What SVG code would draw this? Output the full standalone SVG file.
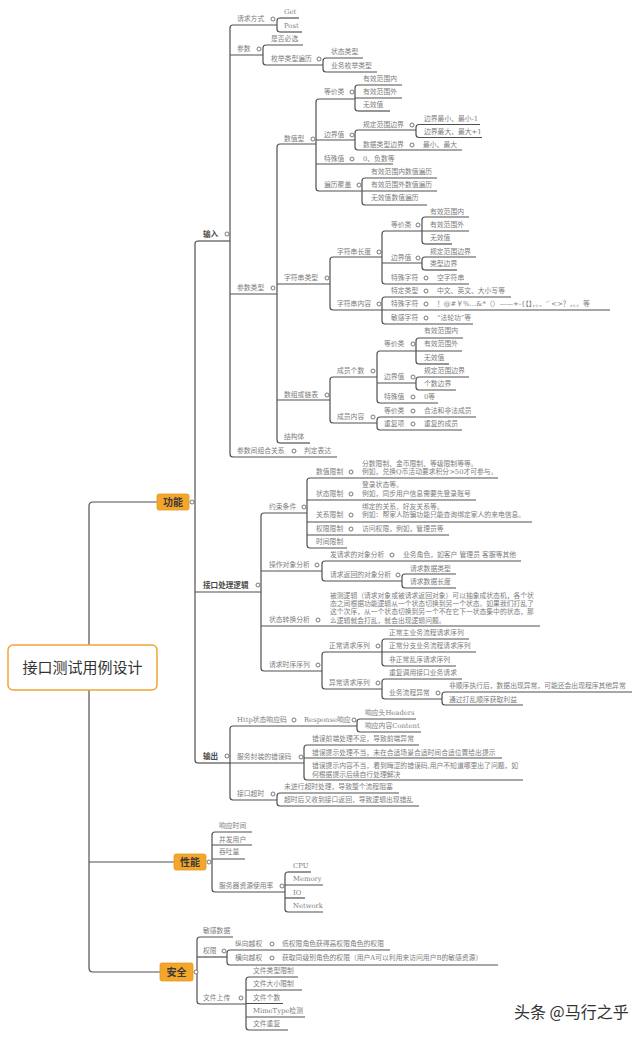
<svg xmlns="http://www.w3.org/2000/svg" width="640" height="1037" viewBox="0 0 640 1037">
<style>
.t{font-family:"DejaVu Serif","Noto Sans CJK SC",serif;font-size:6.8px;fill:#7d7d7d}
.b{font-family:"Liberation Sans","Noto Sans CJK SC",sans-serif;font-size:7.6px;font-weight:bold;fill:#4a4a4a}
.u{fill:none;stroke:#505050;stroke-width:1.2}
.s{fill:none;stroke:#505050;stroke-width:1.2}
.c{fill:#fff;stroke:#6a6a6a;stroke-width:0.9}
.bx{fill:#f4a62a;stroke:#e39a22;stroke-width:0.8}
.bt{font-family:"Noto Sans CJK SC",sans-serif;font-size:10px;font-weight:bold;fill:#3a3a3a;text-anchor:middle}
.rt{font-family:"Noto Sans CJK SC",sans-serif;font-size:15px;fill:#333;text-anchor:middle}
.wm{font-family:"Noto Sans CJK SC",sans-serif;font-size:16px;fill:#333}
</style>
<g id="connectors">
<path class="s" d="M157,502H93Q89,502 89,506V645M89,690V968Q89,972 93,972H160M89,862H174"/>
<path class="s" d="M198,241Q195,241 195,244V760Q195,763 198,763"/>
<path class="s" d="M233,25Q230,25 230,28V454Q230,457 233,457"/>
<path class="s" d="M280,18Q277,18 277,21V29Q277,32 280,32"/>
<path class="s" d="M266,45Q263,45 263,48V62Q263,65 266,65"/>
<path class="s" d="M326,58Q323,58 323,61V69Q323,72 326,72"/>
<path class="s" d="M280,144Q277,144 277,147V440Q277,443 280,443"/>
<path class="s" d="M319,99Q316,99 316,102V188Q316,191 319,191"/>
<path class="s" d="M358,85Q355,85 355,88V108Q355,111 358,111"/>
<path class="s" d="M358,130Q355,130 355,133V147Q355,150 358,150"/>
<path class="s" d="M419,124.5Q416,124.5 416,127.5V134.5Q416,137.5 419,137.5"/>
<path class="s" d="M365,178Q362,178 362,181V202Q362,205 365,205"/>
<path class="s" d="M333,257Q330,257 330,260V307Q330,310 333,310"/>
<path class="s" d="M385,231Q382,231 382,234V281Q382,284 385,284"/>
<path class="s" d="M425,217Q422,217 422,220V241Q422,244 425,244"/>
<path class="s" d="M425,257Q422,257 422,260V267Q422,270 425,270"/>
<path class="s" d="M385,297Q382,297 382,300V321Q382,324 385,324"/>
<path class="s" d="M333,377Q330,377 330,380V420Q330,423 333,423"/>
<path class="s" d="M380,351Q377,351 377,354V400Q377,403 380,403"/>
<path class="s" d="M419,338Q416,338 416,341V361Q416,364 419,364"/>
<path class="s" d="M419,377Q416,377 416,380V387Q416,390 419,390"/>
<path class="s" d="M380,417Q377,417 377,420V427Q377,430 380,430"/>
<path class="s" d="M264,513Q261,513 261,516V668Q261,671 264,671"/>
<path class="s" d="M310,478Q307,478 307,481V545Q307,548 310,548"/>
<path class="s" d="M325,561Q322,561 322,564V578Q322,581 325,581"/>
<path class="s" d="M405,574Q402,574 402,577V585Q402,588 405,588"/>
<path class="s" d="M325,652Q322,652 322,655V686Q322,689 325,689"/>
<path class="s" d="M385,639Q382,639 382,642V663Q382,666 385,666"/>
<path class="s" d="M385,679Q382,679 382,682V696Q382,699 385,699"/>
<path class="s" d="M445,692Q442,692 442,695V702Q442,705 445,705"/>
<path class="s" d="M233,726Q230,726 230,729V797Q230,800 233,800"/>
<path class="s" d="M360,719Q357,719 357,722V729Q357,732 360,732"/>
<path class="s" d="M307,745Q304,745 304,748V777Q304,780 307,780"/>
<path class="s" d="M280,793Q277,793 277,796V803Q277,806 280,806"/>
<path class="s" d="M215,832Q212,832 212,835V889Q212,892 215,892"/>
<path class="s" d="M288,872Q285,872 285,875V909Q285,912 288,912"/>
<path class="s" d="M200,937Q197,937 197,940V1001Q197,1004 200,1004"/>
<path class="s" d="M230,950Q227,950 227,953V962Q227,965 230,965"/>
<path class="s" d="M249,977Q246,977 246,980V1027Q246,1030 249,1030"/>
</g>
<g id="root"><rect x="8" y="645" width="149" height="45" rx="5" fill="#fff" stroke="#f0a535" stroke-width="1.5"/><text class="rt" x="82.5" y="673">接口测试用例设计</text></g>
<g id="b-gongneng"><rect class="bx" x="157" y="494" width="32" height="16" rx="2"/><text class="bt" x="173" y="505.5">功能</text><circle class="c" cx="192" cy="502" r="2"/></g>
<g id="b-xingneng"><rect class="bx" x="174" y="854" width="32" height="16" rx="2"/><text class="bt" x="190" y="865.5">性能</text><circle class="c" cx="209" cy="862" r="2"/></g>
<g id="b-anquan"><rect class="bx" x="160" y="963" width="33" height="18" rx="2"/><text class="bt" x="176.5" y="975.5">安全</text><circle class="c" cx="196" cy="972" r="2"/></g>

<g id="n-input"><text class="b" x="203" y="236.5">输入</text><path class="u" d="M198,241H230"/><circle class="c" cx="227" cy="234" r="2"/></g>
<g id="n-qqfs"><text class="t" x="237" y="21.4">请求方式</text><path class="u" d="M233,25H277"/><circle class="c" cx="273" cy="19" r="2"/></g>
<g id="n-get"><text class="t" x="284" y="14.4">Get</text><path class="u" d="M280,18H299"/></g>
<g id="n-post"><text class="t" x="284" y="28.4">Post</text><path class="u" d="M280,32H302"/></g>
<g id="n-cs"><text class="t" x="237" y="51.4">参数</text><path class="u" d="M230,55H263"/><circle class="c" cx="259" cy="49" r="2"/></g>
<g id="n-sfbx"><text class="t" x="271" y="41.4">是否必选</text><path class="u" d="M266,45H303"/></g>
<g id="n-mjlx"><text class="t" x="271" y="61.4">枚举类型遍历</text><path class="u" d="M266,65H323"/><circle class="c" cx="319" cy="59" r="2"/></g>
<g id="n-ztlx"><text class="t" x="331" y="54.4">状态类型</text><path class="u" d="M326,58H363"/></g>
<g id="n-ywmj"><text class="t" x="331" y="68.4">业务枚举类型</text><path class="u" d="M326,72H377"/></g>
<g id="n-cslx"><text class="t" x="237" y="290.4">参数类型</text><path class="u" d="M230,294H277"/><circle class="c" cx="273" cy="288" r="2"/></g>
<g id="n-szx"><text class="t" x="284" y="141.4">数值型</text><path class="u" d="M280,144H316"/><circle class="c" cx="313" cy="139" r="2"/></g>
<g id="n-djl1"><text class="t" x="324" y="94.4">等价类</text><path class="u" d="M319,99H355"/><circle class="c" cx="352" cy="92" r="2"/></g>
<g id="n-yxn1"><text class="t" x="363" y="81.4">有效范围内</text><path class="u" d="M358,85H402"/></g>
<g id="n-yxw1"><text class="t" x="363" y="94.4">有效范围外</text><path class="u" d="M355,98H402"/></g>
<g id="n-wxz1"><text class="t" x="363" y="107.4">无效值</text><path class="u" d="M358,111H390"/></g>
<g id="n-bjz1"><text class="t" x="324" y="137.4">边界值</text><path class="u" d="M316,140H355"/><circle class="c" cx="352" cy="135" r="2"/></g>
<g id="n-gdfw1"><text class="t" x="363" y="127.4">规定范围边界</text><path class="u" d="M358,130H416"/><circle class="c" cx="412" cy="125" r="2"/></g>
<g id="n-bjmin"><text class="t" x="424" y="121">边界最小、最小-1</text><path class="u" d="M419,124.5H480"/></g>
<g id="n-bjmax"><text class="t" x="424" y="134">边界最大、最大+1</text><path class="u" d="M419,137.5H482"/></g>
<g id="n-sjlx"><text class="t" x="363" y="147.4">数据类型边界</text><path class="u" d="M358,150H462"/><circle class="c" cx="412" cy="145" r="2"/></g>
<g id="n-zxzd"><text class="t" x="423" y="147.4">最小、最大</text></g>
<g id="n-tsz1"><text class="t" x="324" y="161.4">特殊值</text><path class="u" d="M316,164H393"/><circle class="c" cx="352" cy="159" r="2"/></g>
<g id="n-fsd"><text class="t" x="363" y="161.4">0、负数等</text></g>
<g id="n-blfg"><text class="t" x="324" y="187.4">遍历覆盖</text><path class="u" d="M319,191H362"/><circle class="c" cx="359" cy="185" r="2"/></g>
<g id="n-bl1"><text class="t" x="371" y="174.4">有效范围内数值遍历</text><path class="u" d="M365,178H437"/></g>
<g id="n-bl2"><text class="t" x="371" y="187.4">有效范围外数值遍历</text><path class="u" d="M362,191H437"/></g>
<g id="n-bl3"><text class="t" x="371" y="200.4">无效值数值遍历</text><path class="u" d="M365,205H427"/></g>
<g id="n-zfclx"><text class="t" x="284" y="280.4">字符串类型</text><path class="u" d="M277,284H330"/><circle class="c" cx="327" cy="278" r="2"/></g>
<g id="n-zfccd"><text class="t" x="337" y="254.4">字符串长度</text><path class="u" d="M333,257H382"/><circle class="c" cx="379" cy="252" r="2"/></g>
<g id="n-djl2"><text class="t" x="391" y="227.4">等价类</text><path class="u" d="M385,231H422"/><circle class="c" cx="418" cy="225" r="2"/></g>
<g id="n-yxn2"><text class="t" x="430" y="214.4">有效范围内</text><path class="u" d="M425,217H469"/></g>
<g id="n-yxw2"><text class="t" x="430" y="227.4">有效范围外</text><path class="u" d="M422,231H469"/></g>
<g id="n-wxz2"><text class="t" x="430" y="240.4">无效值</text><path class="u" d="M425,244H452"/></g>
<g id="n-bjz2"><text class="t" x="391" y="260.4">边界值</text><path class="u" d="M382,263H422"/><circle class="c" cx="418" cy="258" r="2"/></g>
<g id="n-gdfw2"><text class="t" x="430" y="254.4">规定范围边界</text><path class="u" d="M425,257H476"/></g>
<g id="n-lxbj"><text class="t" x="430" y="266.4">类型边界</text><path class="u" d="M425,270H457"/></g>
<g id="n-tszf1"><text class="t" x="391" y="280.4">特殊字符</text><path class="u" d="M385,284H469"/><circle class="c" cx="426" cy="278" r="2"/></g>
<g id="n-kzfc"><text class="t" x="437" y="280.4">空字符串</text></g>
<g id="n-zfcnr"><text class="t" x="337" y="306.4">字符串内容</text><path class="u" d="M333,310H382"/><circle class="c" cx="379" cy="304" r="2"/></g>
<g id="n-tdlx"><text class="t" x="391" y="293.4">特定类型</text><path class="u" d="M385,297H511"/><circle class="c" cx="426" cy="291" r="2"/></g>
<g id="n-zwyw"><text class="t" x="437" y="293.4">中文、英文、大小写等</text></g>
<g id="n-tszf2"><text class="t" x="391" y="306.4">特殊字符</text><path class="u" d="M382,310H610"/><circle class="c" cx="426" cy="304" r="2"/></g>
<g id="n-tsfh"><text class="t" x="437" y="306.4">！@#￥%…&amp;*（）——+-{【】，。、‘`&lt;&gt;？，。。等</text></g>
<g id="n-mgzf"><text class="t" x="391" y="320.4">敏感字符</text><path class="u" d="M385,324H473"/><circle class="c" cx="426" cy="318" r="2"/></g>
<g id="n-mgc"><text class="t" x="437" y="320.4">“法轮功”等</text></g>
<g id="n-szlb"><text class="t" x="284" y="397.4">数组或链表</text><path class="u" d="M277,400H330"/><circle class="c" cx="327" cy="395" r="2"/></g>
<g id="n-cygs"><text class="t" x="337" y="373.4">成员个数</text><path class="u" d="M333,377H377"/><circle class="c" cx="373" cy="371" r="2"/></g>
<g id="n-djl3"><text class="t" x="384" y="346.4">等价类</text><path class="u" d="M380,351H416"/><circle class="c" cx="413" cy="344" r="2"/></g>
<g id="n-yxn3"><text class="t" x="424" y="333.4">有效范围内</text><path class="u" d="M419,338H463"/></g>
<g id="n-yxw3"><text class="t" x="424" y="346.4">有效范围外</text><path class="u" d="M416,351H462"/></g>
<g id="n-wxz3"><text class="t" x="424" y="360.4">无效值</text><path class="u" d="M419,364H449"/></g>
<g id="n-bjz3"><text class="t" x="384" y="379.4">边界值</text><path class="u" d="M377,383H416"/><circle class="c" cx="413" cy="377" r="2"/></g>
<g id="n-gdfw3"><text class="t" x="424" y="373.4">规定范围边界</text><path class="u" d="M419,377H469"/></g>
<g id="n-gsbj"><text class="t" x="424" y="386.4">个数边界</text><path class="u" d="M419,390H456"/></g>
<g id="n-tsz3"><text class="t" x="384" y="399.4">特殊值</text><path class="u" d="M380,403H438"/><circle class="c" cx="413" cy="397" r="2"/></g>
<g id="n-0d"><text class="t" x="424" y="399.4">0等</text></g>
<g id="n-cynr"><text class="t" x="337" y="419.4">成员内容</text><path class="u" d="M333,423H377"/><circle class="c" cx="373" cy="417" r="2"/></g>
<g id="n-djl4"><text class="t" x="384" y="413.4">等价类</text><path class="u" d="M380,417H476"/><circle class="c" cx="413" cy="411" r="2"/></g>
<g id="n-hfcy"><text class="t" x="424" y="413.4">合法和非法成员</text></g>
<g id="n-cfx"><text class="t" x="384" y="426.4">重复项</text><path class="u" d="M380,430H462"/><circle class="c" cx="413" cy="424" r="2"/></g>
<g id="n-cfcy"><text class="t" x="424" y="426.4">重复的成员</text></g>
<g id="n-jgt"><text class="t" x="284" y="439.4">结构体</text><path class="u" d="M280,443H310"/></g>
<g id="n-zhgx"><text class="t" x="237" y="453.4">参数间组合关系</text><path class="u" d="M233,457H337"/><circle class="c" cx="294" cy="451" r="2"/></g>
<g id="n-pdbd"><text class="t" x="304" y="453.4">判定表达</text></g>

<g id="n-jkcl"><text class="b" x="203" y="588">接口处理逻辑</text><path class="u" d="M195,592H261"/><circle class="c" cx="258" cy="585" r="2"/></g>
<g id="n-ystj"><text class="t" x="269" y="509.4">约束条件</text><path class="u" d="M264,513H307"/><circle class="c" cx="304" cy="507" r="2"/></g>
<g id="n-szxz"><text class="t" x="316" y="474.4">数值限制</text><path class="u" d="M310,478H498"/><circle class="c" cx="351" cy="472" r="2"/><text class="t" x="362" y="466.4">分数限制、金币限制、等级限制等等。</text><text class="t" x="362" y="474.4">例如，兑换Q币活动要求积分&gt;50才可参与。</text></g>
<g id="n-ztxz"><text class="t" x="316" y="496.4">状态限制</text><path class="u" d="M307,500H476"/><circle class="c" cx="351" cy="494" r="2"/><text class="t" x="362" y="487.4">登录状态等。</text><text class="t" x="362" y="496.4">例如，同步用户信息需要先登录账号</text></g>
<g id="n-gxxz"><text class="t" x="316" y="517.4">关系限制</text><path class="u" d="M307,522H532"/><circle class="c" cx="351" cy="515" r="2"/><text class="t" x="362" y="509.4">绑定的关系，好友关系等。</text><text class="t" x="362" y="517.4">例如：帮家人防骗功能只能查询绑定家人的来电信息。</text></g>
<g id="n-qxxz"><text class="t" x="316" y="531.4">权限限制</text><path class="u" d="M307,535H449"/><circle class="c" cx="351" cy="529" r="2"/><text class="t" x="362" y="531.4">访问权限，例如，管理员等</text></g>
<g id="n-sjxz"><text class="t" x="316" y="544.4">时间限制</text><path class="u" d="M310,548H347"/></g>
<g id="n-czdx"><text class="t" x="269" y="567.4">操作对象分析</text><path class="u" d="M261,571H322"/><circle class="c" cx="317" cy="565" r="2"/></g>
<g id="n-fqq"><text class="t" x="330" y="557.4">发请求的对象分析</text><path class="u" d="M325,561H521"/><circle class="c" cx="392" cy="555" r="2"/><text class="t" x="403" y="557.4">业务角色，如客户 管理员 客服等其他</text></g>
<g id="n-qqfh"><text class="t" x="330" y="577.4">请求返回的对象分析</text><path class="u" d="M325,581H402"/><circle class="c" cx="398" cy="575" r="2"/></g>
<g id="n-qqsjlx"><text class="t" x="410" y="571.4">请求数据类型</text><path class="u" d="M405,574H456"/></g>
<g id="n-qqsjcd"><text class="t" x="410" y="584.4">请求数据长度</text><path class="u" d="M405,588H456"/></g>
<g id="n-ztzh"><text class="t" x="269" y="622.4">状态转换分析</text><path class="u" d="M261,626H540"/><circle class="c" cx="318" cy="620" r="2"/>
<text class="t" x="330" y="598">被测逻辑（请求对象或被请求返回对象）可以抽象成状态机，各个状</text>
<text class="t" x="330" y="606.2">态之间根据功能逻辑从一个状态切换到另一个状态。如果我们打乱了</text>
<text class="t" x="330" y="614.4">这个次序，从一个状态切换到另一个不在它下一状态集中的状态，那</text>
<text class="t" x="330" y="622.6">么逻辑就会打乱，就会出现逻辑问题。</text></g>
<g id="n-qqsx"><text class="t" x="269" y="667.4">请求时序序列</text><path class="u" d="M264,671H322"/><circle class="c" cx="318" cy="665" r="2"/></g>
<g id="n-zcqq"><text class="t" x="329" y="648.4">正常请求序列</text><path class="u" d="M325,652H382"/><circle class="c" cx="378" cy="646" r="2"/></g>
<g id="n-zcz"><text class="t" x="389" y="635.4">正常主业务流程请求序列</text><path class="u" d="M385,639H469"/></g>
<g id="n-zcf"><text class="t" x="389" y="648.4">正常分支业务流程请求序列</text><path class="u" d="M382,652H476"/></g>
<g id="n-fzc"><text class="t" x="389" y="662.4">非正常乱序请求序列</text><path class="u" d="M385,666H456"/></g>
<g id="n-ycqq"><text class="t" x="329" y="685.4">异常请求序列</text><path class="u" d="M325,689H382"/><circle class="c" cx="378" cy="683" r="2"/></g>
<g id="n-cfdy"><text class="t" x="389" y="675.4">重复调用接口业务请求</text><path class="u" d="M385,679H462"/></g>
<g id="n-ywlc"><text class="t" x="389" y="695.4">业务流程异常</text><path class="u" d="M385,699H442"/><circle class="c" cx="438" cy="693" r="2"/></g>
<g id="n-fsx"><text class="t" x="449" y="688.4">非顺序执行后，数据出现异常，可能还会出现程序其他异常</text><path class="u" d="M445,692H632"/></g>
<g id="n-dlsx"><text class="t" x="449" y="702.4">通过打乱顺序获取利益</text><path class="u" d="M445,705H523"/></g>

<g id="n-output"><text class="b" x="203" y="758.5">输出</text><path class="u" d="M198,763H230"/><circle class="c" cx="227" cy="756" r="2"/></g>
<g id="n-http"><text class="t" x="237" y="722.4">Http状态响应码</text><path class="u" d="M233,726H357"/><circle class="c" cx="294" cy="720" r="2"/></g>
<g id="n-resp"><text class="t" x="304" y="722.4">Response响应</text><circle class="c" cx="354" cy="720" r="2"/></g>
<g id="n-head"><text class="t" x="365" y="715.4">响应头Headers</text><path class="u" d="M360,719H416"/></g>
<g id="n-cont"><text class="t" x="365" y="728.4">响应内容Content</text><path class="u" d="M360,732H421"/></g>
<g id="n-fwfz"><text class="t" x="237" y="759.4">服务封装的错误码</text><path class="u" d="M230,763H304"/><circle class="c" cx="301" cy="757" r="2"/></g>
<g id="n-cw1"><text class="t" x="312" y="741.4">错误前端处理不足，导致前端异常</text><path class="u" d="M307,745H419"/></g>
<g id="n-cw2"><text class="t" x="312" y="755.4">错误提示处理不当，未在合适场景合适时间合适位置给出提示</text><path class="u" d="M304,758H502"/></g>
<g id="n-cw3"><text class="t" x="312" y="768.4">错误提示内容不当，看到晦涩的错误码,用户不知道哪里出了问题，如</text><text class="t" x="312" y="776.6">何根据提示后续自行处理解决</text><path class="u" d="M307,780H523"/></g>
<g id="n-jkcs"><text class="t" x="237" y="796.4">接口超时</text><path class="u" d="M233,800H277"/><circle class="c" cx="273" cy="794" r="2"/></g>
<g id="n-cs1"><text class="t" x="284" y="789.4">未进行超时处理，导致整个流程阻塞</text><path class="u" d="M280,793H399"/></g>
<g id="n-cs2"><text class="t" x="284" y="802.4">超时后又收到接口返回，导致逻辑出现错乱</text><path class="u" d="M280,806H419"/></g>

<g id="n-xysj"><text class="t" x="219" y="828.4">响应时间</text><path class="u" d="M215,832H252"/></g>
<g id="n-bfyh"><text class="t" x="219" y="842.4">并发用户</text><path class="u" d="M212,845H252"/></g>
<g id="n-ttl"><text class="t" x="219" y="854.4">吞吐量</text><path class="u" d="M212,859H245"/></g>
<g id="n-fwq"><text class="t" x="219" y="888.4">服务器资源使用率</text><path class="u" d="M215,892H285"/><circle class="c" cx="282" cy="886" r="2"/></g>
<g id="n-cpu"><text class="t" x="293" y="868.4">CPU</text><path class="u" d="M288,872H311"/></g>
<g id="n-mem"><text class="t" x="293" y="881.4">Memory</text><path class="u" d="M285,885H323"/></g>
<g id="n-io"><text class="t" x="293" y="895.4">IO</text><path class="u" d="M285,898H305"/></g>
<g id="n-net"><text class="t" x="293" y="908.4">Network</text><path class="u" d="M288,912H323"/></g>

<g id="n-mgsj"><text class="t" x="203" y="933.4">敏感数据</text><path class="u" d="M200,937H233"/></g>
<g id="n-qx"><text class="t" x="203" y="953.4">权限</text><path class="u" d="M197,957H227"/><circle class="c" cx="224" cy="951" r="2"/></g>
<g id="n-zxyq"><text class="t" x="235" y="946.4">纵向越权</text><path class="u" d="M230,950H390"/><circle class="c" cx="272" cy="944" r="2"/><text class="t" x="282" y="946.4">低权限角色获得高权限角色的权限</text></g>
<g id="n-hxyq"><text class="t" x="235" y="960.4">横向越权</text><path class="u" d="M230,965H498"/><circle class="c" cx="272" cy="958" r="2"/><text class="t" x="282" y="960.4">获取同级别角色的权限（用户A可以利用来访问用户B的敏感资源）</text></g>
<g id="n-wjsc"><text class="t" x="203" y="1000.4">文件上传</text><path class="u" d="M200,1004H246"/><circle class="c" cx="241" cy="998" r="2"/></g>
<g id="n-wj1"><text class="t" x="253" y="973.4">文件类型限制</text><path class="u" d="M249,977H298"/></g>
<g id="n-wj2"><text class="t" x="253" y="986.4">文件大小限制</text><path class="u" d="M246,990H302"/></g>
<g id="n-wj3"><text class="t" x="253" y="1000">文件个数</text><path class="u" d="M246,1003.5H283"/></g>
<g id="n-wj4"><text class="t" x="253" y="1013.4">MimeType检测</text><path class="u" d="M246,1017H305"/></g>
<g id="n-wj5"><text class="t" x="253" y="1026.4">文件重复</text><path class="u" d="M249,1030H288"/></g>
<text class="wm" x="514" y="1018">头条 @马行之乎</text>
</svg>
